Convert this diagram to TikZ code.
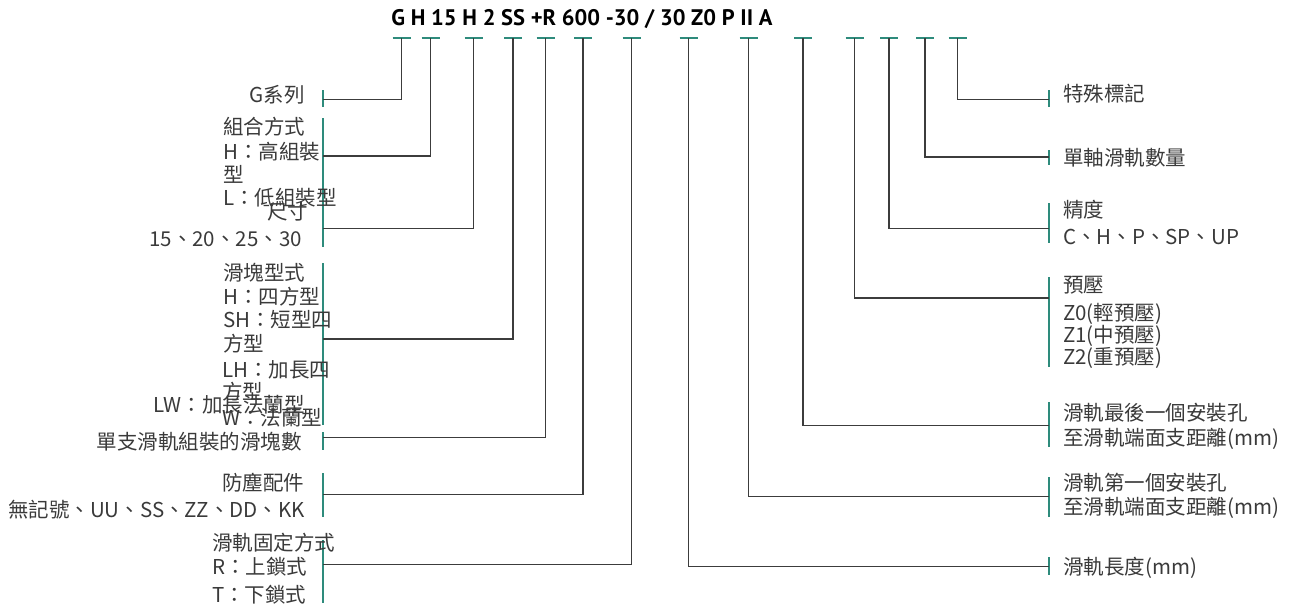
\documentclass[tikz,border=0pt]{standalone}
\usepackage{fontspec}
\setmainfont{Noto Sans CJK TC}
\newfontfamily\titlefont{PT Sans}
\definecolor{txt}{HTML}{3A3A3A}
\definecolor{lnc}{HTML}{3C3C3C}
\definecolor{tealc}{HTML}{2E8B7C}
\newcommand{\lblfont}{\fontsize{20.5}{24}\selectfont}
\begin{document}
\begin{tikzpicture}[x=1pt,y=-1pt,
  lbl/.style={inner sep=0pt, anchor=base west, text=txt, font=\lblfont},
  lblr/.style={lbl, anchor=base east},
  ln/.style={draw=lnc, line width=1.3pt},
  bar/.style={draw=tealc, line width=2pt},
  tickmark/.style={draw=tealc, line width=1.6pt}]
\useasboundingbox (0,0) rectangle (1291,608);
% title
\node[inner sep=0pt, text=black] (title) at (582,19)
  {\resizebox{381pt}{!}{\titlefont\bfseries G H 15 H 2 SS +R 600 -30 / 30 Z0 P II A}};
% ticks
\foreach \i/\x in {1/401.6,2/430.5,3/473.5,4/513,5/545.6,6/583,7/631.5,8/688.5,9/748.5,10/803,11/854.5,12/889,13/925,14/957.5}{
  \coordinate (t\i) at (\x,38);
  \draw[tickmark] (\x-9,38) -- (\x+9,38);
}
% left bars
\draw[bar] (322.5,90) -- (322.5,107);
\draw[bar] (322.5,118) -- (322.5,247);
\draw[bar] (322.5,263) -- (322.5,425);
\draw[bar] (322.5,432) -- (322.5,450);
\draw[bar] (322.5,473) -- (322.5,517);
\draw[bar] (322.5,540) -- (322.5,603);
% right bars
\draw[bar] (1049,90) -- (1049,107);
\draw[bar] (1049,150) -- (1049,165);
\draw[bar] (1049,203) -- (1049,243);
\draw[bar] (1049,277) -- (1049,367);
\draw[bar] (1049,402) -- (1049,447);
\draw[bar] (1049,477) -- (1049,517);
\draw[bar] (1049,557) -- (1049,575);
% bar anchor points
\coordinate (L1) at (322.5,99.5);
\coordinate (L2) at (322.5,156);
\coordinate (L3) at (322.5,228.5);
\coordinate (L4) at (322.5,339);
\coordinate (L5) at (322.5,437.5);
\coordinate (L6) at (322.5,494.5);
\coordinate (L7) at (322.5,564.5);
\coordinate (R8) at (1049,566.5);
\coordinate (R9) at (1049,496.5);
\coordinate (R10) at (1049,425.5);
\coordinate (R11) at (1049,298);
\coordinate (R12) at (1049,228.5);
\coordinate (R13) at (1049,157);
\coordinate (R14) at (1049,99.5);
% connectors
\draw[ln] (t1) |- (L1);
\draw[ln] (t2) |- (L2);
\draw[ln] (t3) |- (L3);
\draw[ln] (t4) |- (L4);
\draw[ln] (t5) |- (L5);
\draw[ln] (t6) |- (L6);
\draw[ln] (t7) |- (L7);
\draw[ln] (t8) |- (R8);
\draw[ln] (t9) |- (R9);
\draw[ln] (t10) |- (R10);
\draw[ln] (t11) |- (R11);
\draw[ln] (t12) |- (R12);
\draw[ln] (t13) |- (R13);
\draw[ln] (t14) |- (R14);
% left labels
\node[lblr] (a1) at (305,102) {G系列};
\node[lbl] (a2) at (223,134) {組合方式};
\node[lbl] (a3) at (223,159) {H：高組裝};
\node[lbl] (a4) at (223,182) {型};
\node[lbl] (a5) at (223,205) {L：低組裝型};
\node[lbl] (a6) at (267,219) {尺寸};
\node[lblr] (a7) at (302,246) {15、20、25、30};
\node[lbl] (a8) at (223,280) {滑塊型式};
\node[lbl] (a9) at (223,304) {H：四方型};
\node[lbl] (a10) at (223,327) {SH：短型四};
\node[lbl] (a11) at (223,351) {方型};
\node[lbl] (a12) at (222,377) {LH：加長四};
\node[lbl] (a13) at (222,399) {方型};
\node[lblr] (a14) at (305,412) {LW：加長法蘭型};
\node[lbl] (a15) at (222,425) {W：法蘭型};
\node[lblr] (a16) at (302,449) {單支滑軌組裝的滑塊數};
\node[lbl] (a17) at (222,490) {防塵配件};
\node[lbl] (a18) at (8,517) {無記號、UU、SS、ZZ、DD、KK};
\node[lbl] (a19) at (212,550) {滑軌固定方式};
\node[lbl] (a20) at (212,574) {R：上鎖式};
\node[lbl] (a21) at (212,602) {T：下鎖式};
% right labels
\node[lbl] (b1) at (1063,101) {特殊標記};
\node[lbl] (b2) at (1063,165) {單軸滑軌數量};
\node[lbl] (b3) at (1063,217) {精度};
\node[lbl] (b4) at (1063,244) {C、H、P、SP、UP};
\node[lbl] (b5) at (1063,292) {預壓};
\node[lbl] (b6) at (1063,320) {Z0(輕預壓)};
\node[lbl] (b7) at (1063,342) {Z1(中預壓)};
\node[lbl] (b8) at (1063,364) {Z2(重預壓)};
\node[lbl] (b9) at (1063,420) {滑軌最後一個安裝孔};
\node[lbl] (b10) at (1063,445) {至滑軌端面支距離(mm)};
\node[lbl] (b11) at (1063,490) {滑軌第一個安裝孔};
\node[lbl] (b12) at (1063,514) {至滑軌端面支距離(mm)};
\node[lbl] (b13) at (1063,574) {滑軌長度(mm)};
\end{tikzpicture}
\end{document}
